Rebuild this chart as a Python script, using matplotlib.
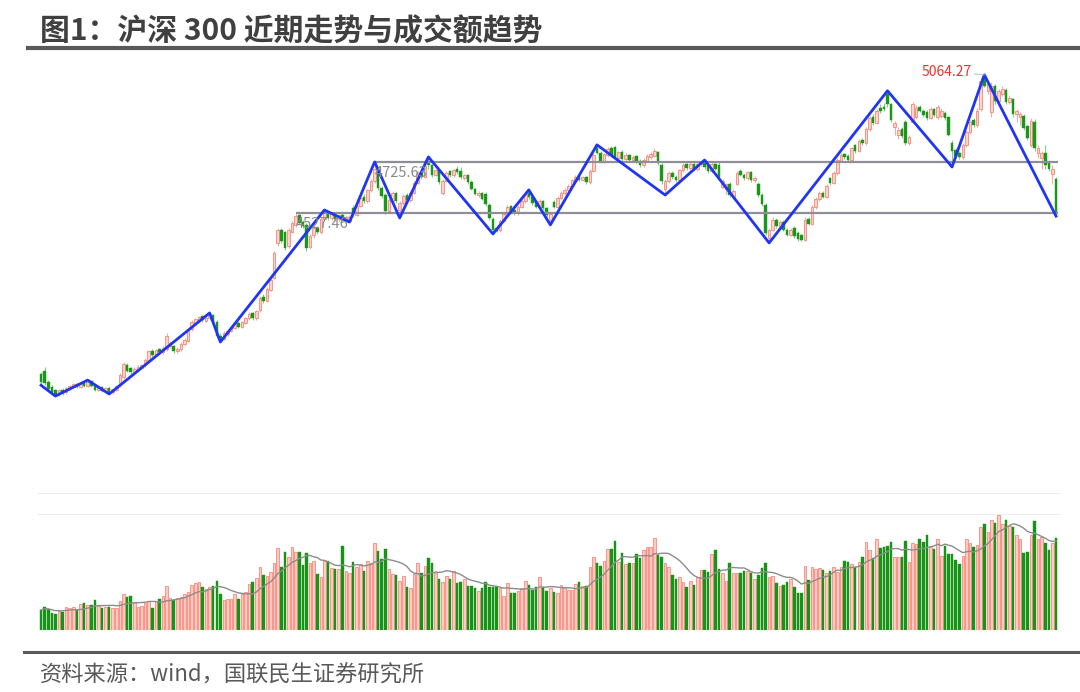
import numpy as np
import pandas as pd
import matplotlib
matplotlib.use('Agg')
import matplotlib.pyplot as plt
from matplotlib.lines import Line2D

plt.rcParams['font.family'] = ['Noto Sans CJK SC', 'DejaVu Sans']

title = '图1：沪深 300 近期走势与成交额趋势'
source = '资料来源：wind，国联民生证券研究所'

# daily candles of CSI 300
opens = [
    3900, 3915, 3870, 3850, 3838, 3824, 3840, 3830, 3846, 3852,
    3864, 3850, 3868, 3856, 3874, 3858, 3840, 3850, 3836, 3846,
    3832, 3840, 3858, 3890, 3938, 3925, 3908, 3920, 3926, 3935,
    3955, 3992, 3975, 3998, 3986, 3998, 4010, 4010, 3990, 3998,
    4020, 4030, 4075, 4100, 4112, 4126, 4108, 4118, 4132, 4104,
    4050, 4038, 4058, 4070, 4082, 4100, 4086, 4100, 4118, 4138,
    4118, 4150, 4200, 4185, 4230, 4275, 4410, 4460, 4452, 4400,
    4455, 4480, 4518, 4492, 4482, 4395, 4440, 4470, 4452, 4505,
    4528, 4508, 4524, 4505, 4520, 4500, 4496, 4545, 4520, 4555,
    4590, 4572, 4615, 4652, 4700, 4625, 4598, 4535, 4575, 4605,
    4540, 4566, 4598, 4576, 4606, 4644, 4684, 4668, 4725, 4712,
    4676, 4694, 4605, 4652, 4690, 4674, 4700, 4690, 4664, 4676,
    4648, 4620, 4596, 4604, 4600, 4560, 4505, 4470, 4460, 4498,
    4522, 4554, 4540, 4526, 4552, 4572, 4605, 4588, 4570, 4550,
    4572, 4546, 4500, 4570, 4552, 4585, 4604, 4618, 4632, 4652,
    4672, 4656, 4666, 4646, 4690, 4780, 4760, 4728, 4752, 4780,
    4782, 4740, 4766, 4738, 4752, 4732, 4748, 4730, 4712, 4730,
    4745, 4750, 4765, 4715, 4620, 4650, 4684, 4668, 4656, 4694,
    4716, 4702, 4718, 4698, 4716, 4726, 4708, 4690, 4718, 4712,
    4630, 4620, 4640, 4590, 4640, 4690, 4676, 4662, 4686, 4655,
    4640, 4598, 4560, 4430, 4462, 4500, 4478, 4494, 4462, 4442,
    4470, 4450, 4440, 4424, 4505, 4486, 4550, 4580, 4606, 4590,
    4662, 4644, 4682, 4730, 4756, 4748, 4734, 4790, 4770, 4812,
    4798, 4852, 4900, 4878, 4935, 4940, 4990, 4950, 4860, 4830,
    4852, 4880, 4800, 4880, 4900, 4940, 4925, 4920, 4898, 4930,
    4900, 4905, 4915, 4900, 4800, 4772, 4760, 4745, 4790, 4842,
    4890, 4868, 4930, 5050, 5000, 4920, 5020, 4962, 4990, 5005,
    4958, 4970, 4910, 4900, 4905, 4865, 4790, 4880, 4760, 4740,
    4760, 4720, 4680, 4660,
]
highs = [
    3910, 3930, 3878, 3858, 3845, 3842, 3846, 3852, 3858, 3866,
    3868, 3870, 3872, 3878, 3876, 3862, 3856, 3854, 3850, 3850,
    3848, 3860, 3905, 3950, 3945, 3930, 3928, 3935, 3940, 3965,
    3995, 3998, 4000, 4004, 4010, 4062, 4030, 4015, 4005, 4025,
    4040, 4078, 4110, 4120, 4128, 4132, 4126, 4139, 4135, 4110,
    4060, 4068, 4076, 4090, 4105, 4106, 4108, 4125, 4142, 4144,
    4150, 4205, 4212, 4240, 4275, 4378, 4470, 4468, 4458, 4470,
    4495, 4527.46, 4522, 4500, 4490, 4445, 4475, 4476, 4512, 4539,
    4534, 4528, 4530, 4525, 4526, 4516, 4520, 4560, 4560, 4590,
    4600, 4622, 4660, 4725.63, 4710, 4632, 4605, 4585, 4612, 4610,
    4575, 4600, 4605, 4612, 4650, 4690, 4692, 4715, 4745, 4718,
    4700, 4698, 4660, 4690, 4696, 4700, 4708, 4706, 4680, 4680,
    4654, 4626, 4612, 4608, 4608, 4565, 4512, 4480, 4505, 4530,
    4560, 4560, 4548, 4560, 4580, 4608, 4617, 4594, 4576, 4580,
    4578, 4550, 4530, 4578, 4592, 4612, 4625, 4640, 4660, 4675,
    4680, 4672, 4672, 4700, 4760, 4792, 4770, 4762, 4782, 4786,
    4788, 4770, 4772, 4760, 4758, 4752, 4754, 4736, 4740, 4755,
    4765, 4778, 4770, 4722, 4660, 4690, 4690, 4674, 4700, 4720,
    4722, 4724, 4722, 4722, 4730, 4733, 4714, 4725, 4722, 4728,
    4660, 4645, 4646, 4620, 4690, 4698, 4684, 4692, 4690, 4672,
    4648, 4604, 4566, 4470, 4510, 4506, 4500, 4500, 4468, 4470,
    4476, 4458, 4446, 4510, 4512, 4560, 4590, 4612, 4612, 4640,
    4668, 4690, 4740, 4760, 4762, 4756, 4785, 4796, 4815, 4818,
    4860, 4905, 4910, 4930, 4950, 4955, 5002, 4956, 4885, 4862,
    4860, 4890, 4830, 4960, 4945, 4948, 4930, 4926, 4940, 4936,
    4945, 4935, 4922, 4905, 4810, 4780, 4770, 4800, 4850, 4890,
    4898, 4935, 5050, 5064.27, 5040, 5035, 5028, 5010, 5020, 5012,
    4985, 4975, 4930, 4920, 4910, 4870, 4895, 4892, 4790, 4770,
    4790, 4735, 4712, 4668,
]
lows = [
    3858, 3860, 3838, 3828, 3816, 3818, 3822, 3826, 3840, 3848,
    3846, 3846, 3852, 3850, 3852, 3836, 3834, 3830, 3830, 3824,
    3826, 3834, 3852, 3884, 3910, 3900, 3902, 3914, 3920, 3930,
    3950, 3968, 3970, 3980, 3980, 3992, 4002, 3982, 3984, 3992,
    4015, 4026, 4070, 4094, 4105, 4104, 4102, 4112, 4100, 4040,
    4026, 4032, 4050, 4064, 4076, 4080, 4080, 4096, 4112, 4112,
    4112, 4144, 4178, 4180, 4224, 4270, 4400, 4410, 4384, 4392,
    4448, 4472, 4482, 4470, 4380, 4388, 4432, 4446, 4446, 4498,
    4500, 4500, 4498, 4498, 4496, 4494, 4492, 4512, 4515, 4550,
    4565, 4566, 4610, 4645, 4618, 4585, 4525, 4528, 4568, 4565,
    4508, 4560, 4570, 4570, 4600, 4638, 4660, 4662, 4700, 4668,
    4670, 4640, 4598, 4646, 4668, 4668, 4680, 4660, 4656, 4640,
    4615, 4596, 4590, 4576, 4555, 4500, 4446, 4452, 4455, 4492,
    4516, 4530, 4520, 4520, 4546, 4566, 4580, 4560, 4545, 4544,
    4540, 4510, 4481, 4545, 4546, 4578, 4598, 4612, 4626, 4646,
    4650, 4650, 4640, 4640, 4685, 4755, 4720, 4722, 4746, 4745,
    4738, 4734, 4730, 4730, 4725, 4726, 4720, 4705, 4706, 4725,
    4738, 4744, 4712, 4640, 4597, 4644, 4660, 4648, 4650, 4688,
    4696, 4696, 4690, 4692, 4710, 4700, 4684, 4684, 4694, 4662,
    4620, 4600, 4590, 4582, 4635, 4670, 4655, 4656, 4648, 4648,
    4590, 4556, 4440, 4411, 4456, 4470, 4472, 4456, 4436, 4436,
    4430, 4420, 4418, 4418, 4480, 4480, 4544, 4574, 4584, 4584,
    4636, 4638, 4676, 4724, 4738, 4728, 4728, 4762, 4764, 4790,
    4792, 4846, 4870, 4872, 4915, 4925, 4940, 4880, 4830, 4815,
    4820, 4790, 4790, 4875, 4894, 4918, 4900, 4890, 4892, 4900,
    4894, 4898, 4890, 4825, 4706, 4740, 4738, 4738, 4784, 4836,
    4860, 4860, 4925, 5015, 4990, 4900, 4950, 4955, 4980, 4950,
    4950, 4900, 4880, 4870, 4850, 4810, 4782, 4770, 4740, 4700,
    4700, 4690, 4640, 4515,
]
closes = [
    3870, 3868, 3845, 3832, 3822, 3838, 3828, 3848, 3855, 3862,
    3850, 3866, 3856, 3872, 3856, 3840, 3850, 3836, 3846, 3830,
    3842, 3855, 3898, 3940, 3915, 3908, 3922, 3930, 3936, 3958,
    3990, 3975, 3994, 3986, 4002, 4050, 4022, 3990, 4000, 4020,
    4035, 4072, 4104, 4115, 4124, 4110, 4120, 4130, 4105, 4048,
    4036, 4062, 4070, 4085, 4098, 4086, 4102, 4120, 4136, 4118,
    4145, 4198, 4185, 4232, 4268, 4370, 4462, 4420, 4392, 4462,
    4488, 4515, 4490, 4478, 4392, 4438, 4468, 4452, 4505, 4530,
    4508, 4522, 4505, 4518, 4500, 4510, 4512, 4520, 4555, 4585,
    4572, 4615, 4652, 4700, 4625, 4592, 4535, 4578, 4605, 4572,
    4568, 4595, 4578, 4606, 4644, 4682, 4668, 4710, 4712, 4676,
    4694, 4648, 4652, 4684, 4674, 4694, 4686, 4666, 4674, 4646,
    4620, 4602, 4606, 4582, 4562, 4508, 4462, 4458, 4498, 4524,
    4552, 4536, 4526, 4552, 4574, 4600, 4588, 4566, 4552, 4572,
    4546, 4518, 4524, 4552, 4585, 4605, 4618, 4634, 4655, 4668,
    4656, 4666, 4646, 4692, 4752, 4762, 4728, 4755, 4775, 4752,
    4745, 4764, 4738, 4752, 4732, 4746, 4728, 4712, 4734, 4748,
    4758, 4770, 4720, 4650, 4650, 4682, 4668, 4656, 4694, 4714,
    4702, 4718, 4698, 4716, 4726, 4706, 4690, 4718, 4700, 4668,
    4652, 4638, 4598, 4612, 4682, 4676, 4662, 4686, 4655, 4664,
    4598, 4562, 4450, 4462, 4500, 4478, 4494, 4462, 4442, 4462,
    4436, 4428, 4424, 4500, 4486, 4550, 4582, 4605, 4590, 4632,
    4644, 4682, 4732, 4752, 4744, 4734, 4778, 4770, 4808, 4798,
    4852, 4898, 4878, 4922, 4922, 4932, 4952, 4890, 4875, 4850,
    4826, 4800, 4822, 4950, 4935, 4925, 4906, 4898, 4932, 4908,
    4938, 4925, 4895, 4832, 4770, 4748, 4745, 4792, 4842, 4880,
    4868, 4925, 5040, 5022, 5030, 5020, 4962, 5000, 5010, 4958,
    4975, 4910, 4922, 4912, 4858, 4818, 4885, 4780, 4780, 4762,
    4712, 4700, 4700, 4527.46,
]
# turnover, 亿元
volume = [
    1200, 1360, 1240, 1040, 960, 1160, 1100, 1360, 1300, 1400,
    1200, 1540, 1600, 1500, 1520, 1800, 1460, 1300, 1360, 1400,
    1300, 1340, 1740, 2160, 1960, 2040, 1700, 1400, 1440, 1600,
    1760, 1300, 1740, 1840, 2040, 2640, 1900, 1800, 1900, 2000,
    2160, 2260, 2680, 2800, 2880, 2560, 2480, 2600, 2640, 2940,
    2140, 1800, 1840, 1840, 2160, 1840, 2160, 2300, 2760, 2900,
    3100, 3800, 3300, 3240, 3500, 4040, 4940, 3760, 4700, 4400,
    5000, 4700, 4660, 3900, 4640, 4000, 4140, 3360, 3200, 4160,
    4140, 3700, 3640, 3660, 5040, 3560, 3440, 4080, 3800, 3960,
    3560, 4160, 4040, 5200, 4760, 4260, 4840, 3640, 3360, 3320,
    2960, 3240, 2600, 2500, 3360, 4040, 3440, 3840, 4300, 4000,
    3440, 3040, 2900, 3240, 3040, 3560, 2840, 2900, 3040, 2640,
    2640, 2500, 2360, 2500, 2900, 2560, 2560, 2560, 2500, 2040,
    2800, 2200, 2240, 2360, 2500, 2960, 2680, 2400, 2560, 3160,
    2560, 2360, 2500, 2300, 2240, 2680, 2560, 2400, 2400, 2760,
    2880, 2640, 2660, 3800, 4360, 4000, 3840, 4140, 4840, 4840,
    5360, 4080, 4640, 3960, 4000, 4000, 4560, 4300, 4800, 5000,
    5000, 5540, 4500, 4360, 4000, 3800, 3280, 3040, 3160, 2900,
    2600, 2960, 2700, 3160, 3600, 3600, 3480, 4560, 4800, 3640,
    3440, 2940, 4000, 3440, 3440, 3440, 3540, 3560, 3440, 3040,
    3300, 3700, 4040, 3160, 3240, 2840, 2640, 2700, 2900, 3040,
    2560, 2240, 2240, 3860, 3000, 3800, 3640, 3700, 3600, 3440,
    3560, 3800, 3500, 3760, 4160, 4060, 3960, 3800, 4100, 4360,
    5300, 4800, 4300, 5460, 4900, 5000, 5040, 5300, 4400, 4360,
    4360, 5360, 4100, 5200, 5160, 5440, 5300, 5700, 4960, 4840,
    5440, 4440, 5040, 4560, 4560, 4200, 3940, 4440, 5440, 5240,
    5000, 5100, 6160, 6340, 5900, 6600, 6400, 6900, 6360, 6600,
    6240, 6200, 5700, 5440, 4600, 4700, 5700, 6540, 5440, 5560,
    5200, 4800, 5240, 5540,
]

# zigzag turning points: bar index and whether it sits on the low or the high
zz_idx = [0, 4, 13, 19, 47, 50, 79, 86, 93, 100, 108, 126, 136, 142, 155,
          174, 185, 203, 236, 254, 263, 283]
zz_kind = 'LLHLHLHLHLHLHLHLHLHLHL'

levels = [4725.63, 4527.46]
level_start = [93, 71]
vol_grid = [6960, 8220]

o = np.array(opens, dtype=float)
h = np.array(highs, dtype=float)
l = np.array(lows, dtype=float)
c = np.array(closes, dtype=float)
vol = np.array(volume, dtype=float)
n = len(c)
x = np.arange(n)
up = c >= o

fig = plt.figure(figsize=(10.8, 6.92), dpi=100)
ax = fig.add_axes([38/1080, 212/692, 1022/1080, 425/692])
axv = fig.add_axes([38/1080, 62/692, 1022/1080, 137/692])

# candles
ax.vlines(x[up], l[up], h[up], color='#f7a99f', lw=0.8, zorder=1)
ax.vlines(x[~up], l[~up], h[~up], color='#86cc86', lw=0.8, zorder=1)
body = np.maximum(np.abs(c - o), 2)
ax.bar(x[up], body[up], bottom=o[up], width=0.72, color='#fdd3cc',
       edgecolor='#f4877a', lw=0.6, zorder=2)
ax.bar(x[~up], body[~up], bottom=c[~up], width=0.72, color='#1a961a',
       edgecolor='#1a961a', lw=0.3, zorder=2)

# support / resistance
for lv, s in zip(levels, level_start):
    ax.hlines(lv, s, n - 0.5, color='#8e8e98', lw=1.6, zorder=4)
    ax.text(s, lv - 16, f'{lv:.2f}', color='#8a8a8a', fontsize=10.5,
            ha='left', va='top', zorder=6)

# zigzag
zz_y = [l[i] if k == 'L' else h[i] for i, k in zip(zz_idx, zz_kind)]
ax.plot(zz_idx, zz_y, color='#1f35f2', lw=2.0, zorder=5)

pk = int(np.argmax(h))
ax.annotate(f'{h[pk]:.2f}', xy=(pk, h[pk]), xytext=(pk - 3.6, h[pk] + 10),
            ha='right', va='center', color='#e5352b', fontsize=10, zorder=7,
            arrowprops=dict(arrowstyle='-', color='#9fcfee', lw=0.8,
                            shrinkA=0, shrinkB=0))

ax.set_xlim(-0.85, n + 0.1)
ax.set_ylim(3490, 5141)
ax.axis('off')

# turnover bars
axv.bar(x[up], vol[up], width=0.72, color='#ffcbc4', edgecolor='#f8887b', lw=0.6)
axv.bar(x[~up], vol[~up], width=0.72, color='#179417', edgecolor='#179417', lw=0.3)
ma = pd.Series(vol).rolling(10, min_periods=1).mean()
axv.plot(x, ma, color='#8c8c8c', lw=1.0)
for g in vol_grid:
    axv.axhline(g, color='#eeeeee', lw=0.8, zorder=0, clip_on=False)
axv.set_xlim(-0.85, n + 0.1)
axv.set_ylim(0, 8220)
axv.axis('off')

# title, rules and source
fig.text(40/1080, 1 - 31/692, title, fontsize=21.5, fontweight='bold',
         color='#404040', va='center')
fig.add_artist(Line2D([28/1080, 1], [1 - 48/692] * 2, color='#595959', lw=3))
fig.add_artist(Line2D([24/1080, 1], [1 - 652/692] * 2, color='#595959', lw=2.2))
fig.text(40/1080, 1 - 675/692, source, fontsize=16, color='#595959', va='center')

fig.savefig('out.png', dpi=100)
